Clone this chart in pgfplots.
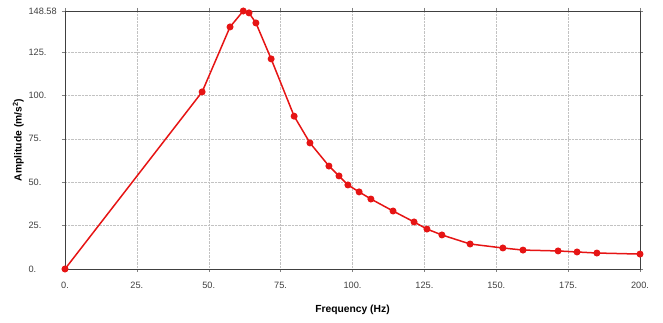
\documentclass[border=0pt]{standalone}
\usepackage{pgfplots}
\pgfplotsset{compat=1.18}
\usepackage{fontspec}
\setmainfont{Liberation Sans}
\definecolor{lred}{RGB}{230,20,20}
\begin{document}
\begin{tikzpicture}
\begin{axis}[
  scale only axis,
  width=575pt, height=258pt,
  xmin=0, xmax=200, ymin=0, ymax=148.58,
  xtick={0,25,50,75,100,125,150,175,200},
  xticklabels={0.,25.,50.,75.,100.,125.,150.,175.,200.},
  ytick={0,25,50,75,100,125,148.58},
  yticklabels={0.,25.,50.,75.,100.,125.,148.58},
  ticklabel style={font=\fontsize{9.2}{11}\selectfont, text=black!75},
  yticklabel style={anchor=west, xshift=-37pt},
  xticklabel style={yshift=-7pt},
  tick align=outside, major tick length=3pt,
  tick style={black!50, thin},
  xlabel={\textbf{Frequency (Hz)}},
  ylabel={\textbf{Amplitude (m/s\textsuperscript{2})}},
  label style={font=\fontsize{10.3}{12}\selectfont},
  xlabel style={yshift=-9pt},
  ylabel style={yshift=-2pt},
  grid=major,
  major grid style={black!24, densely dotted},
  axis line style={black!75, line width=0.8pt},
  clip=false,
]
\addplot[lred, line width=1.5pt, mark=*, mark size=2.7pt, mark options={fill=lred, draw=lred}] coordinates {
(0,0) (47.7,102) (57.4,139.4) (62,148.58) (64,147.5) (66.4,141.7) (71.7,121)
(79.7,88) (85.2,72.6) (91.8,59.3) (95.3,53.6) (98.4,48.4) (102.3,44.4)
(106.4,40.3) (114.1,33.4) (121.4,27.1) (125.9,23.0) (131.1,19.6) (140.9,14.4)
(152.3,12.1) (159.3,10.9) (171.5,10.4) (178.1,9.8) (185.0,9.2) (200,8.6)
};
\end{axis}
\path (current axis.south west) ++(-65pt,-54pt) coordinate (bl);
\path (current axis.north east) ++(23pt,11pt) coordinate (tr);
\path (bl) rectangle (tr);
\end{tikzpicture}
\end{document}
